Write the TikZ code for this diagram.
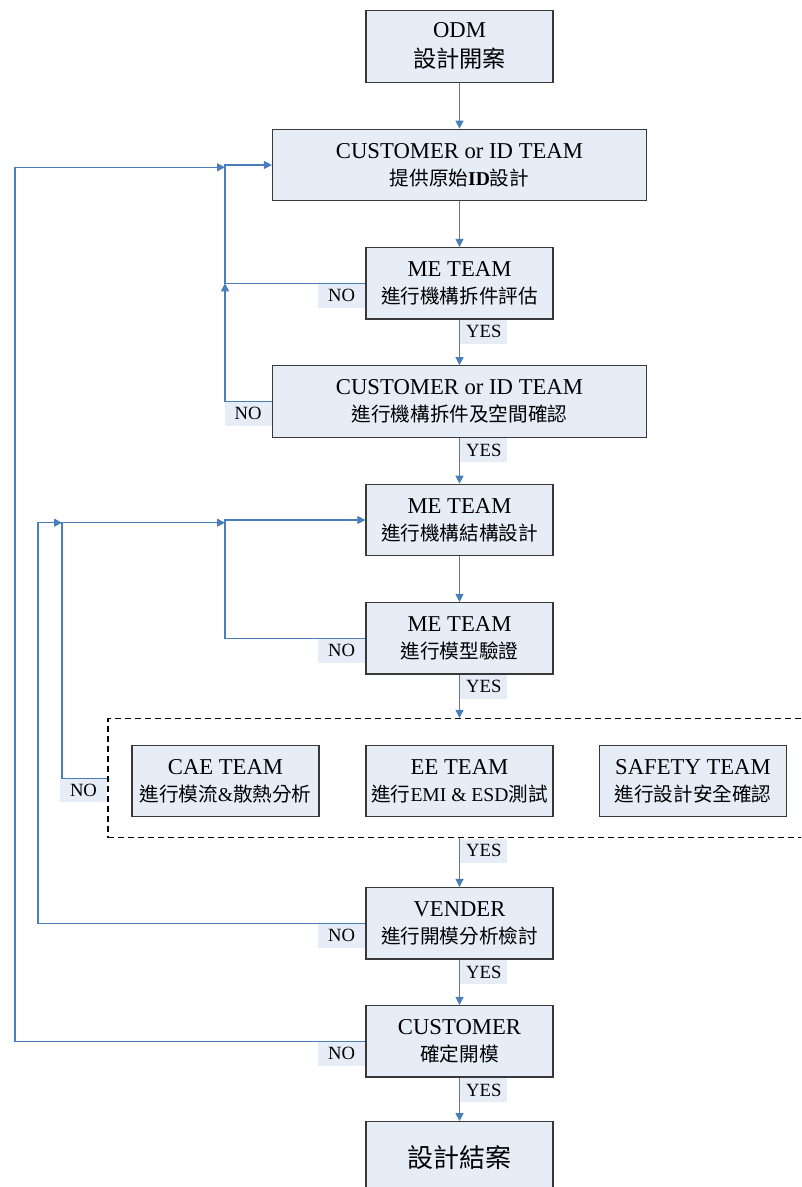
\documentclass[tikz,border=0pt]{standalone}
\usepackage{fontspec}
\setmainfont{Liberation Serif}
\newfontfamily\cjk{Noto Sans CJK TC}
\usetikzlibrary{arrows.meta}
\definecolor{boxfill}{HTML}{E7EDF7}
\definecolor{boxline}{HTML}{383838}
\definecolor{flowblue}{HTML}{4A7EBB}
% second line of a stage: Chinese text, Latin parts switched back to the serif
\newcommand\zhtext[1]{{\cjk\fontsize{14.7}{20.3}\selectfont #1}}
\begin{document}
\begin{tikzpicture}[x=0.75pt,y=-0.75pt,
  stage/.style={draw=boxline, line width=0.9pt, fill=boxfill,
    minimum width=140.25pt, minimum height=53.6pt, inner sep=0pt,
    align=center, font=\fontsize{17}{20.3}\selectfont},
  widestage/.style={stage, minimum width=280.5pt},
  answer/.style={fill=boxfill, minimum width=35.25pt, minimum height=18pt,
    inner sep=0pt, font=\fontsize{14}{16}\selectfont},
  flow/.style={draw=flowblue, line width=0.8pt,
    -{Triangle[length=6pt,width=6pt]}},
  groupbox/.style={draw=black, line width=1.1pt,
    dash pattern=on 4.5pt off 3pt, minimum width=541.5pt,
    minimum height=89.25pt, inner sep=0pt}]
\path[use as bounding box, clip] (0,0) rectangle (801,1187);

% main column of stages
\node[stage, font=\fontsize{17}{22.5}\selectfont] (odm) at (459.5,46.4)
  {ODM\\{\cjk\fontsize{17.4}{22.5}\selectfont 設計開案}};
\node[widestage] (c1) at (459.5,165) {CUSTOMER or ID TEAM\\\zhtext{提供原始\textrm{\bfseries ID}設計}};
\node[stage] (me1) at (459.5,283.3) {ME TEAM\\\zhtext{進行機構拆件評估}};
\node[widestage] (c2) at (459.5,401.5) {CUSTOMER or ID TEAM\\\zhtext{進行機構拆件及空間確認}};
\node[stage] (me3) at (459.5,520) {ME TEAM\\\zhtext{進行機構結構設計}};
\node[stage] (me4) at (459.5,638.3) {ME TEAM\\\zhtext{進行模型驗證}};

% parallel checks inside the dashed group
\node[groupbox] (grp) at (469,778.2) {};
\node[stage] (cae) at (225.5,780.9) {CAE TEAM\\\zhtext{進行模流\textrm{\&}散熱分析}};
\node[stage] (ee) at (459.5,780.9) {EE TEAM\\\zhtext{進行\textrm{EMI \& ESD}測試}};
\node[stage] (saf) at (693,780.9) {SAFETY TEAM\\\zhtext{進行設計安全確認}};

\node[stage] (ven) at (459.5,923.3) {VENDER\\\zhtext{進行開模分析檢討}};
\node[stage] (cus) at (459.5,1041.3) {CUSTOMER\\\zhtext{確定開模}};
\node[stage] (fin) at (459.5,1157.5) {{\cjk\fontsize{19.5}{24}\selectfont 設計結案}};

% answer tags
\node[answer, anchor=north west, xshift=0.4pt] (y1) at (me1.south) {YES};
\node[answer, anchor=north west, xshift=0.4pt] (y2) at (c2.south) {YES};
\node[answer, anchor=north west, xshift=0.4pt] (y3) at (me4.south) {YES};
\node[answer, anchor=north west, xshift=0.4pt] (y4) at (grp.south -| me4.south) {YES};
\node[answer, anchor=north west, xshift=0.4pt] (y5) at (ven.south) {YES};
\node[answer, anchor=north west, xshift=0.4pt] (y6) at (cus.south) {YES};
\node[answer, anchor=north east] (n1) at (me1.west) {NO};
\node[answer, anchor=north east] (n2) at (c2.west) {NO};
\node[answer, anchor=north east] (n3) at (me4.west) {NO};
\node[answer, anchor=north east] (n4) at (grp.west) {NO};
\node[answer, anchor=north east] (n5) at (ven.west) {NO};
\node[answer, anchor=north east] (n6) at (cus.west) {NO};

% forward flow
\draw[flow] (odm) -- (c1);
\draw[flow] (c1) -- (me1);
\draw[flow] (me1) -- (c2);
\draw[flow] (c2) -- (me3);
\draw[flow] (me3) -- (me4);
\draw[flow] (me4.south) -- (me4.south |- grp.north);
\draw[flow] (grp.south -| ven.north) -- (ven.north);
\draw[flow] (ven) -- (cus);
\draw[flow] (cus) -- (fin);

% return paths
\coordinate (colA) at (225,0);
\coordinate (colB) at (62,0);
\coordinate (colC) at (38,0);
\coordinate (colD) at (15,0);
\coordinate (rowB) at (0,522.7);
\coordinate (rowD) at (0,167.3);
\draw[flow] (me1.west) -| (colA |- c1.west) -- (c1.west);
\draw[flow] (c2.west) -| (colA |- me1.west);
\draw[flow] (me4.west) -| (colA |- me3.west) -- (me3.west);
\draw[flow] (grp.west) -| (colB |- rowB) -- (colA |- rowB);
\draw[flow] (ven.west) -| (colC |- rowB) -- (colB |- rowB);
\draw[flow] (cus.west) -| (colD |- rowD) -- (colA |- rowD);
\end{tikzpicture}
\end{document}
